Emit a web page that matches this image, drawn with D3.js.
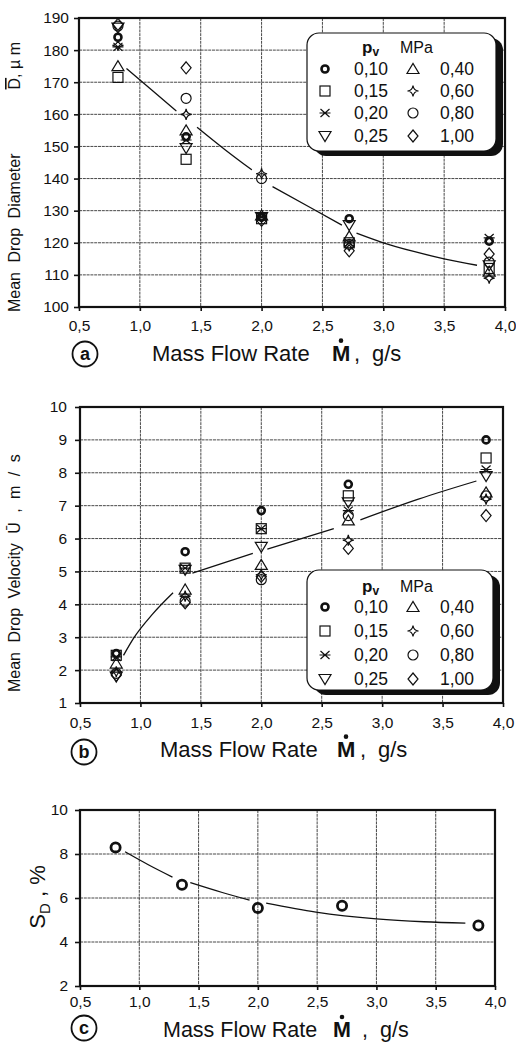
<!DOCTYPE html>
<html><head><meta charset="utf-8">
<script src="https://cdn.jsdelivr.net/npm/d3@7"></script>
<style>
body{margin:0;background:#fff}
svg{display:block}
text{font-family:"Liberation Sans",Arial,Helvetica,sans-serif;fill:#111}
</style>
</head><body>
<svg id="chart" width="516" height="1043"></svg>
<script>
// ---------- data ----------
const xTicks = [0.5,1.0,1.5,2.0,2.5,3.0,3.5,4.0];
const xTickLabels = ["0,5","1,0","1,5","2,0","2,5","3,0","3,5","4,0"];
const yTicksA = [100,110,120,130,140,150,160,170,180,190];
const yTicksB = [1,2,3,4,5,6,7,8,9,10];
const yTicksC = [2,4,6,8,10];

const seriesLabels = ["0,10","0,15","0,20","0,25","0,40","0,60","0,80","1,00"];
const seriesShapes = ["boldcircle","square","asterisk","tridown","triup","star","circle","diamond"];

// (a) mean drop diameter, µm
const flowA = [0.82,1.38,2.0,2.72,3.87];
const diamA_010 = [184,153,128,127.5,120.5];
const diamA_015 = [171.5,146,127.5,120,112];
const diamA_020 = [181,152,128,120,121.5];
const diamA_025 = [187,149.5,128,125.5,113];
const diamA_040 = [175,155,128.5,122,111];
const diamA_060 = [181.5,160,141.5,119,109];
const diamA_080 = [187.5,165,140,119.5,114];
const diamA_100 = [188,174.5,127,117.5,116.5];
const fitA_x = [0.89,1.1,1.3,null,1.47,1.7,1.92,null,2.09,2.4,2.66,null,2.78,3.0,3.25,3.5,3.77];
const fitA_y = [174.3,167.5,161,null,156,149,142.7,null,137.5,131,125.5,null,123,120,117.3,115,113];

// (b) mean drop velocity, m/s
const flowB = [0.8,1.37,2.0,2.72,3.86];
const velB_010 = [2.5,5.6,6.85,7.65,9.0];
const velB_015 = [2.45,5.1,6.3,7.3,8.45];
const velB_020 = [2.4,5.1,6.3,6.85,8.1];
const velB_025 = [1.8,5.05,5.75,7.1,7.9];
const velB_040 = [2.2,4.45,5.2,6.55,7.4];
const velB_060 = [1.95,4.25,4.9,5.95,7.2];
const velB_080 = [1.9,4.1,4.75,6.7,7.3];
const velB_100 = [1.85,4.05,4.85,5.7,6.7];
const fitB_x = [0.86,0.94,1.1,1.27,null,1.43,1.93,null,2.05,2.6,null,2.82,3.3,3.78];
const fitB_y = [2.45,2.95,3.7,4.35,null,4.95,5.55,null,5.68,6.3,null,6.57,7.2,7.75];

// (c) S_D, %
const flowC = [0.8,1.36,2.0,2.71,3.86];
const sdC = [8.3,6.6,5.55,5.65,4.75];
const fitC_x = [0.88,1.08,1.28,null,1.43,1.7,1.93,null,2.07,2.49,3.0,3.4,3.75];
const fitC_y = [8.1,7.5,6.95,null,6.7,6.25,5.9,null,5.77,5.36,5.05,4.92,4.86];

const diamA = [diamA_010,diamA_015,diamA_020,diamA_025,diamA_040,diamA_060,diamA_080,diamA_100];
const velB = [velB_010,velB_015,velB_020,velB_025,velB_040,velB_060,velB_080,velB_100];

// ---------- drawing ----------
const svg = d3.select("#chart");

function drawMarker(g, shape, cx, cy){
  const m = g.append("g").attr("transform",`translate(${cx},${cy})`)
    .attr("fill","none").attr("stroke","#111").attr("stroke-width",1.2);
  switch(shape){
    case "boldcircle": m.append("circle").attr("r",3.5).attr("stroke-width",2.6); break;
    case "square": m.append("rect").attr("x",-5).attr("y",-5).attr("width",10).attr("height",10); break;
    case "asterisk":
      m.append("path").attr("d","M-4.5,-4L4.5,4M-4.5,4L4.5,-4M-5.5,0L5.5,0"); break;
    case "tridown": m.append("path").attr("d","M-6,-4.5L6,-4.5L0,5.5Z"); break;
    case "triup": m.append("path").attr("d","M-6,4.5L6,4.5L0,-5.5Z"); break;
    case "star": m.append("path").attr("d","M0,-5.5Q0.6,-0.6 5.5,0Q0.6,0.6 0,5.5Q-0.6,0.6 -5.5,0Q-0.6,-0.6 0,-5.5Z"); break;
    case "circle": m.append("circle").attr("r",5); break;
    case "diamond": m.append("path").attr("d","M0,-6L5,0L0,6L-5,0Z"); break;
  }
}

function panel(cfg){
  const g = svg.append("g");
  const x = d3.scaleLinear().domain([0.5,4.0]).range([cfg.left,cfg.right]);
  const y = d3.scaleLinear().domain(cfg.yDomain).range([cfg.bottom,cfg.top]);
  // grid
  g.append("g").selectAll("line").data(xTicks.slice(1,-1)).join("line")
    .attr("x1",d=>x(d)).attr("x2",d=>x(d)).attr("y1",cfg.top).attr("y2",cfg.bottom)
    .attr("stroke","#333").attr("stroke-width",0.9).attr("stroke-dasharray","3,0.8");
  g.append("g").selectAll("line").data(cfg.yTicks.slice(1,-1)).join("line")
    .attr("y1",d=>y(d)).attr("y2",d=>y(d)).attr("x1",cfg.left).attr("x2",cfg.right)
    .attr("stroke","#333").attr("stroke-width",0.9).attr("stroke-dasharray","3,0.8");
  // axes
  const ax = g.append("g").attr("transform",`translate(0,${cfg.bottom})`)
    .call(d3.axisBottom(x).tickValues(xTicks).tickFormat((d,i)=>xTickLabels[i]).tickSize(4).tickPadding(cfg.xPad));
  const ay = g.append("g").attr("transform",`translate(${cfg.left},0)`)
    .call(d3.axisLeft(y).tickValues(cfg.yTicks).tickFormat(d3.format("d")).tickSize(5).tickPadding(cfg.yPad));
  [ax,ay].forEach(a=>{
    a.select(".domain").remove();
    a.selectAll(".tick line").attr("stroke","#111").attr("stroke-width",1.6);
    a.selectAll("text").attr("font-size",15.5).attr("fill","#111")
      .style("font-family","'Liberation Sans',Arial,sans-serif");
  });
  // frame
  g.append("rect").attr("x",cfg.left).attr("y",cfg.top)
    .attr("width",cfg.right-cfg.left).attr("height",cfg.bottom-cfg.top)
    .attr("fill","none").attr("stroke","#111").attr("stroke-width",2.2);
  return {g,x,y};
}

function fitLine(p, xs, ys){
  const pts = xs.map((v,i)=>[v,ys[i]]);
  const line = d3.line().defined(d=>d[0]!==null)
    .x(d=>p.x(d[0])).y(d=>p.y(d[1])).curve(d3.curveMonotoneX);
  p.g.append("path").attr("d",line(pts)).attr("fill","none")
    .attr("stroke","#111").attr("stroke-width",1.3);
}

function legend(L){
  const g = svg.append("g");
  g.append("rect").attr("x",L.x+7).attr("y",L.y+5).attr("width",L.w).attr("height",L.h)
    .attr("rx",12).attr("fill","#111");
  g.append("rect").attr("x",L.x).attr("y",L.y).attr("width",L.w).attr("height",L.h)
    .attr("rx",12).attr("fill","#fff").attr("stroke","#111").attr("stroke-width",1.2);
  const h = g.append("text").attr("x",L.x+55).attr("y",L.headY).attr("font-size",17);
  h.append("tspan").text("p").attr("font-weight","bold");
  h.append("tspan").text("v").attr("font-weight","bold").attr("font-size",12).attr("dy",3);
  g.append("text").attr("x",L.x+93).attr("y",L.headY).attr("font-size",16).text("MPa");
  seriesLabels.forEach((lab,i)=>{
    const col = i<4?0:1, row = i%4;
    const by = L.rowY[row];
    drawMarker(g, seriesShapes[i], col===0?L.x+18:L.x+106, by-6);
    g.append("text").attr("x",col===0?L.x+81:L.x+167).attr("y",by)
      .attr("text-anchor","end").attr("font-size",17.5).text(lab);
  });
}

function xTitle(t){
  const g = svg.append("g");
  g.append("circle").attr("cx",t.cx).attr("cy",t.cy).attr("r",12.5)
    .attr("fill","none").attr("stroke","#111").attr("stroke-width",1.8);
  g.append("text").attr("x",t.cx).attr("y",t.cy+6).attr("text-anchor","middle")
    .attr("font-size",18).attr("font-weight","bold").text(t.letter);
  g.append("text").attr("x",t.x0).attr("y",t.base).attr("font-size",t.fs).text("Mass Flow Rate");
  g.append("text").attr("x",t.xm).attr("y",t.base).attr("font-size",t.fs).attr("font-weight","bold").text("M");
  g.append("circle").attr("cx",t.xm+9).attr("cy",t.base-t.fs*0.72-4.5).attr("r",2.3).attr("fill","#111");
  g.append("text").attr("x",t.xc).attr("y",t.base).attr("font-size",t.fs).text(",");
  g.append("text").attr("x",t.xg).attr("y",t.base).attr("font-size",t.fs).text("g/s");
}

// ----- panel (a)
const pA = panel({left:79,right:505,top:18,bottom:307,yDomain:[100,190],yTicks:yTicksA,xPad:9,yPad:5});
fitLine(pA, fitA_x, fitA_y);
diamA.forEach((vals,si)=>vals.forEach((v,i)=>drawMarker(pA.g, seriesShapes[si], pA.x(flowA[i]), pA.y(v))));
legend({x:307,y:33,w:189,h:118,headY:53,rowY:[75,97,119,142]});
xTitle({letter:"a",cx:85,cy:354,x0:152,xm:332,xc:354,xg:372,base:361,fs:22});
{
  const t = svg.append("text").attr("transform","translate(20,312) rotate(-90)")
    .attr("font-size",16).attr("word-spacing",5);
  t.append("tspan").text("Mean Drop Diameter");
  const t2 = svg.append("text").attr("transform","translate(20,42) rotate(-90)")
    .attr("font-size",16).attr("text-anchor","end");
  t2.append("tspan").text("D").attr("text-decoration","overline");
  t2.append("tspan").text(", \u00b5 m");
}

// ----- panel (b)
const pB = panel({left:80,right:503,top:407,bottom:703,yDomain:[1,10],yTicks:yTicksB,xPad:10,yPad:8});
fitLine(pB, fitB_x, fitB_y);
velB.forEach((vals,si)=>vals.forEach((v,i)=>drawMarker(pB.g, seriesShapes[si], pB.x(flowB[i]), pB.y(v))));
legend({x:307,y:570,w:186,h:120,headY:592,rowY:[613,637,661,685]});
xTitle({letter:"b",cx:84,cy:752,x0:160,xm:337,xc:360,xg:378,base:757,fs:22});
{
  const t = svg.append("text").attr("transform","translate(20,692) rotate(-90)")
    .attr("font-size",16).attr("word-spacing",5);
  t.append("tspan").text("Mean Drop Velocity \u016a , m / s");
}

// ----- panel (c)
const pC = panel({left:80,right:495,top:810,bottom:986,yDomain:[2,10],yTicks:yTicksC,xPad:6,yPad:7});
fitLine(pC, fitC_x, fitC_y);
sdC.forEach((v,i)=>drawMarker(pC.g, "boldcircle", pC.x(flowC[i]), pC.y(v)));
pC.g.selectAll("circle").attr("r",4.6).attr("stroke-width",2.8);
xTitle({letter:"c",cx:84,cy:1028,x0:163,xm:333,xc:362,xg:380,base:1037,fs:21.5});
{
  const t = svg.append("text").attr("transform","translate(45,897) rotate(-90)")
    .attr("font-size",22).attr("text-anchor","middle");
  t.append("tspan").text("S");
  t.append("tspan").text("D").attr("font-size",15).attr("dy",5);
  t.append("tspan").text(" , %").attr("dy",-5);
}
</script>
</body></html>
